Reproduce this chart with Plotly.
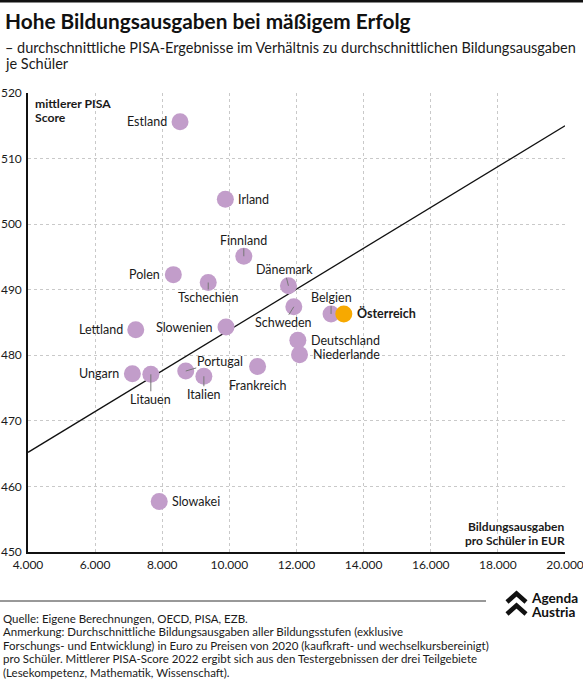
import plotly.graph_objects as go

# ---------------- data ----------------
countries = ["Estland", "Irland", "Finnland", "Polen", "Tschechien", "Dänemark",
             "Schweden", "Belgien", "Österreich", "Deutschland", "Niederlande",
             "Slowenien", "Lettland", "Ungarn", "Litauen", "Portugal", "Italien",
             "Frankreich", "Slowakei"]
spending = [8530, 9880, 10430, 8330, 9370, 11760, 11920, 13030, 13410, 12040,
            12090, 9900, 7210, 7110, 7660, 8700, 9240, 10840, 7910]
pisa = [515.6, 503.8, 495.1, 492.3, 491.1, 490.6, 487.4, 486.3, 486.3, 482.3,
        480.1, 484.3, 483.9, 477.2, 477.1, 477.6, 476.8, 478.3, 457.7]
trend_x = [4000, 20000]
trend_y = [465.2, 515.0]
x_ticks = [4000, 6000, 8000, 10000, 12000, 14000, 16000, 18000, 20000]
y_ticks = [450, 460, 470, 480, 490, 500, 510, 520]

title = "Hohe Bildungsausgaben bei mäßigem Erfolg"
subtitle = ["– durchschnittliche PISA-Ergebnisse im Verhältnis zu durchschnittlichen Bildungsausgaben",
            "je Schüler"]
y_title = ["mittlerer PISA", "Score"]
x_title = ["Bildungsausgaben", "pro Schüler in EUR"]
footer = ["Quelle: Eigene Berechnungen, OECD, PISA, EZB.",
          "Anmerkung: Durchschnittliche Bildungsausgaben aller Bildungsstufen (exklusive",
          "Forschungs- und Entwicklung) in Euro zu Preisen von 2020 (kaufkraft- und wechselkursbereinigt)",
          "pro Schüler. Mittlerer PISA-Score 2022 ergibt sich aus den Testergebnissen der drei Teilgebiete",
          "(Lesekompetenz, Mathematik, Wissenschaft)."]
logo = ["Agenda", "Austria"]

# ---------------- layout geometry ----------------
W, H = 583, 680
L, R, T, B = 28, 565, 93, 552
FONT = "Lato"
TXT = "#1a1a1a"
PURPLE = "#c29dca"
ORANGE = "#f7a900"
highlight = "Österreich"


def px(xp):
    return (xp - L) / (R - L)


def py(yp):
    return (B - yp) / (B - T)


fig = go.Figure()

fig.add_trace(go.Scatter(x=trend_x, y=trend_y, mode="lines",
                         line=dict(color="#111111", width=1.3),
                         hoverinfo="skip", showlegend=False))

colors = [ORANGE if c == highlight else PURPLE for c in countries]
order = sorted(range(len(countries)), key=lambda i: countries[i] == highlight)
fig.add_trace(go.Scatter(x=[spending[i] for i in order], y=[pisa[i] for i in order],
                         mode="markers",
                         marker=dict(size=17, color=[colors[i] for i in order],
                                     line=dict(width=0)),
                         text=[countries[i] for i in order],
                         hoverinfo="text", showlegend=False))

# label placement (style only)
side_labels = {"Estland": -1, "Irland": 1, "Polen": -1, "Slowenien": -1, "Lettland": -1,
               "Ungarn": -1, "Österreich": 1, "Deutschland": 1, "Niederlande": 1,
               "Slowakei": 1}
leader_labels = {"Finnland": (0, -16), "Dänemark": (-4, -16), "Tschechien": (0, 15),
                 "Schweden": (-10, 16), "Belgien": (0, -16), "Litauen": (0, 25),
                 "Italien": (0, 18), "Portugal": (34, -10)}
below_labels = {"Frankreich": 19}

annotations = []
for c, xv, yv in zip(countries, spending, pisa):
    fnt = dict(family=FONT, size=12.5, color=TXT)
    label = f"<b>{c}</b>" if c == highlight else c
    if c in side_labels:
        d = side_labels[c]
        annotations.append(dict(x=xv, y=yv, xref="x", yref="y", text=label,
                                showarrow=False, xanchor="left" if d > 0 else "right",
                                yanchor="middle", xshift=11 * d, font=fnt))
    elif c in leader_labels:
        dx, dy = leader_labels[c]
        annotations.append(dict(x=xv, y=yv, xref="x", yref="y", text=label,
                                showarrow=True, arrowhead=0, arrowwidth=1,
                                arrowcolor="#777777", ax=dx, ay=dy, standoff=0,
                                font=fnt, borderpad=0))
    elif c in below_labels:
        annotations.append(dict(x=xv, y=yv, xref="x", yref="y", text=label,
                                showarrow=False, xanchor="center", yanchor="middle",
                                yshift=-below_labels[c], font=fnt))

# axis titles
for i, s in enumerate(y_title):
    annotations.append(dict(x=px(33), y=py(103.5 + 13.6 * i), xref="paper", yref="paper",
                            text=f"<b>{s}</b>", showarrow=False,
                            xanchor="left", yanchor="middle",
                            font=dict(family=FONT, size=12.2, color=TXT)))
for i, s in enumerate(x_title):
    annotations.append(dict(x=px(567), y=py(526.5 + 14 * i), xref="paper", yref="paper",
                            text=f"<b>{s}</b>", showarrow=False,
                            xanchor="right", yanchor="middle",
                            font=dict(family=FONT, size=12, color=TXT)))

# title / subtitle
annotations.append(dict(x=px(3), y=py(21), xref="paper", yref="paper", text=f"<b>{title}</b>",
                        showarrow=False, xanchor="left", yanchor="middle",
                        font=dict(family=FONT, size=20.8, color="#111111")))
for i, s in enumerate(subtitle):
    annotations.append(dict(x=px(3), y=py(48 + 15.5 * i), xref="paper", yref="paper", text=s,
                            showarrow=False, xanchor="left", yanchor="middle",
                            font=dict(family=FONT, size=14.5, color=TXT)))

# footer
for i, s in enumerate(footer):
    annotations.append(dict(x=px(1), y=py(618 + 13.5 * i), xref="paper", yref="paper", text=s,
                            showarrow=False, xanchor="left", yanchor="middle",
                            font=dict(family=FONT, size=11.5, color=TXT)))

# logo text
for i, s in enumerate(logo):
    annotations.append(dict(x=px(529), y=py(598 + 14 * i), xref="paper", yref="paper",
                            text=f"<b>{s}</b>", showarrow=False, xanchor="left",
                            yanchor="middle",
                            font=dict(family=FONT, size=13.6, color="#111111")))

shapes = [
    # top rule
    dict(type="line", xref="paper", yref="paper", x0=px(0), x1=px(W), y0=py(1.2), y1=py(1.2),
         line=dict(color="#111111", width=2.5)),
    # footer rule
    dict(type="line", xref="paper", yref="paper", x0=px(0), x1=px(486), y0=py(601), y1=py(601),
         line=dict(color="#333333", width=1)),
    # logo chevrons
    dict(type="path", xref="paper", yref="paper",
         path=f"M {px(507)},{py(602)} L {px(516.5)},{py(593.5)} L {px(526)},{py(602)}",
         line=dict(color="#111111", width=4.5)),
    dict(type="path", xref="paper", yref="paper",
         path=f"M {px(507)},{py(614)} L {px(516.5)},{py(605.5)} L {px(526)},{py(614)}",
         line=dict(color="#111111", width=4.5)),
]

fig.update_layout(
    width=W, height=H,
    margin=dict(l=L, r=W - R, t=T, b=H - B, pad=0, autoexpand=False),
    paper_bgcolor="white", plot_bgcolor="white",
    separators=",.",
    font=dict(family=FONT, size=12, color=TXT),
    annotations=annotations, shapes=shapes,
    xaxis=dict(range=[4000, 20000], tickvals=x_ticks, tickformat=",d", automargin=False,
               showgrid=True, gridcolor="#c9c9c9", griddash="dot", gridwidth=1,
               showline=True, linecolor="#111111", linewidth=1.5,
               ticks="", zeroline=False, fixedrange=True, ticklabeloverflow="allow",
               tickfont=dict(family=FONT, size=12, color=TXT), ticklabelstandoff=1),
    yaxis=dict(range=[450, 520], tickvals=y_ticks, automargin=False,
               showgrid=True, gridcolor="#c9c9c9", griddash="dot", gridwidth=1,
               showline=True, linecolor="#111111", linewidth=1.5,
               ticks="", zeroline=False, fixedrange=True, ticklabeloverflow="allow",
               tickfont=dict(family=FONT, size=12, color=TXT), ticklabelstandoff=2),
    hovermode="closest",
)

fig.write_html("out.html", config={"displayModeBar": False},
               post_script="document.body.style.margin='0';document.body.style.overflow='hidden';")
